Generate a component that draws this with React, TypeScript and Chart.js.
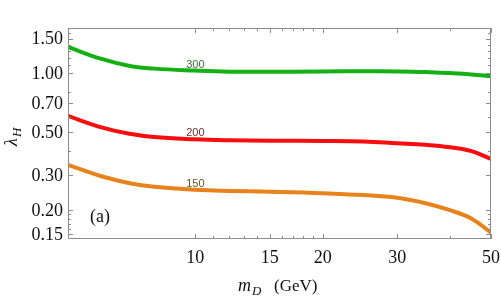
import React, { useEffect, useRef } from "react";
import { Chart, registerables } from "chart.js";
Chart.register(...registerables);

const massGeV = [5, 6, 7, 8, 10, 12, 15, 20, 25, 30, 35, 40, 45, 50];
const lambda300 = [1.36, 1.181, 1.088, 1.054, 1.03, 1.017, 1.015, 1.02, 1.023, 1.02, 1.013, 1.0, 0.985, 0.965];
const lambda200 = [0.604, 0.528, 0.49, 0.471, 0.459, 0.454, 0.451, 0.45, 0.447, 0.438, 0.43, 0.418, 0.399, 0.364];
const lambda150 = [0.34, 0.297, 0.2737, 0.2626, 0.2535, 0.25, 0.2477, 0.2435, 0.238, 0.2305, 0.2164, 0.1993, 0.1804, 0.153];
const curveLabels = ["300", "200", "150"];
const labelAtMass = 10;
const xMajorTicks = [10, 15, 20, 30, 50];
const xTickLabels = ["10", "15", "20", "30", "50"];
const xMinorTicks = [11, 12, 13, 14, 16, 17, 18, 19, 40];
const yMajorTicks = [0.15, 0.2, 0.3, 0.5, 0.7, 1.0, 1.5];
const yTickLabels = ["0.15", "0.20", "0.30", "0.50", "0.70", "1.00", "1.50"];
const yMinorTicks = [0.16, 0.17, 0.18, 0.19, 0.4, 0.6, 0.8, 1.1, 1.2, 1.3, 1.4, 1.6];
const panelLabel = "(a)";

const lineColors = ["#14b014", "#f60d0d", "#e8821a"];
const labelColors = ["#3c6a3c", "#6e2b2b", "#5c5a22"];

const serif = '"Liberation Serif", "DejaVu Serif", serif';
const sans = '"Liberation Sans", Arial, sans-serif';

const framePlugin = {
  id: "framePlugin",
  afterDatasetsDraw(chart: any) {
    const ctx = chart.ctx as CanvasRenderingContext2D;
    const { left, right, top, bottom } = chart.chartArea;
    const xs = chart.scales.x;
    const ys = chart.scales.y;
    ctx.save();
    ctx.strokeStyle = "#8c8c8c";
    ctx.lineWidth = 1;
    ctx.strokeRect(left + 0.5, top + 0.5, right - left - 1, bottom - top - 1);
    const tick = (x1: number, y1: number, x2: number, y2: number) => {
      ctx.beginPath();
      ctx.moveTo(x1, y1);
      ctx.lineTo(x2, y2);
      ctx.stroke();
    };
    const major = 5;
    const minor = 3;
    xMajorTicks.forEach((v) => {
      const px = Math.round(xs.getPixelForValue(v)) + 0.5;
      tick(px, bottom, px, bottom - major);
      tick(px, top, px, top + major);
    });
    xMinorTicks.forEach((v) => {
      const px = Math.round(xs.getPixelForValue(v)) + 0.5;
      tick(px, bottom, px, bottom - minor);
      tick(px, top, px, top + minor);
    });
    yMajorTicks.forEach((v) => {
      const py = Math.round(ys.getPixelForValue(v)) + 0.5;
      tick(left, py, left + major, py);
      tick(right, py, right - major, py);
    });
    yMinorTicks.forEach((v) => {
      const py = Math.round(ys.getPixelForValue(v)) + 0.5;
      tick(left, py, left + minor, py);
      tick(right, py, right - minor, py);
    });

    ctx.fillStyle = "#111";
    ctx.font = `18px ${serif}`;
    ctx.textAlign = "right";
    ctx.textBaseline = "middle";
    yMajorTicks.forEach((v, i) => {
      ctx.fillText(yTickLabels[i], left - 5, ys.getPixelForValue(v) + 1);
    });
    ctx.textAlign = "center";
    ctx.textBaseline = "alphabetic";
    xMajorTicks.forEach((v, i) => {
      ctx.fillText(xTickLabels[i], xs.getPixelForValue(v), bottom + 24);
    });

    ctx.textAlign = "left";
    ctx.fillText(panelLabel, 90, 222);

    ctx.font = `italic 18px ${serif}`;
    ctx.fillText("m", 238, 291);
    ctx.font = `italic 13px ${serif}`;
    ctx.fillText("D", 252, 295);
    ctx.font = `17px ${serif}`;
    ctx.fillText("(GeV)", 274, 291);

    ctx.save();
    ctx.translate(17, 146);
    ctx.rotate(-Math.PI / 2);
    ctx.font = `italic 18px ${serif}`;
    ctx.fillText("λ", 0, 0);
    ctx.font = `italic 13px ${serif}`;
    ctx.fillText("H", 9, 4);
    ctx.restore();

    ctx.font = `11px ${sans}`;
    ctx.textAlign = "center";
    const series = [lambda300, lambda200, lambda150];
    const idx = massGeV.indexOf(labelAtMass);
    series.forEach((s, i) => {
      ctx.fillStyle = labelColors[i];
      ctx.fillText(curveLabels[i], xs.getPixelForValue(labelAtMass), ys.getPixelForValue(s[idx]) - 3);
    });
    ctx.restore();
  },
};

export default function App() {
  const ref = useRef<HTMLCanvasElement | null>(null);
  useEffect(() => {
    document.body.style.margin = "0";
    const canvas = ref.current!;
    const mk = (vals: number[], color: string) => ({
      data: massGeV.map((m, i) => ({ x: m, y: vals[i] })),
      borderColor: color,
      borderWidth: 4,
      pointRadius: 0,
      fill: false,
      tension: 0.4,
    });
    const chart = new Chart(canvas, {
      type: "line",
      data: {
        datasets: [mk(lambda300, lineColors[0]), mk(lambda200, lineColors[1]), mk(lambda150, lineColors[2])],
      },
      options: {
        animation: false,
        responsive: false,
        devicePixelRatio: 1,
        layout: { padding: { left: 68, right: 10, top: 28, bottom: 60 } },
        plugins: { legend: { display: false }, tooltip: { enabled: false } },
        scales: {
          x: { type: "logarithmic", min: 5, max: 50, display: false },
          y: { type: "logarithmic", min: 0.142, max: 1.7, display: false },
        },
      },
      plugins: [framePlugin],
    });
    return () => chart.destroy();
  }, []);
  return (
    <div style={{ position: "absolute", left: 0, top: 0, width: 501, height: 299, background: "#fff" }}>
      <canvas ref={ref} width={501} height={299} />
    </div>
  );
}
